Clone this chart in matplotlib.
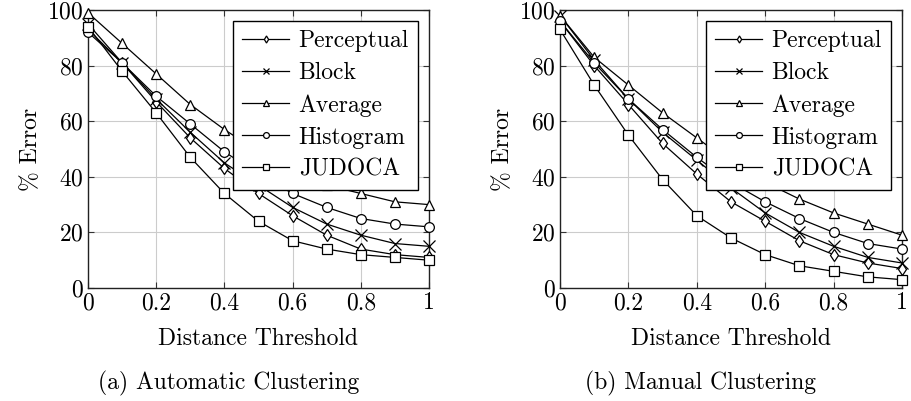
import numpy as np
import matplotlib
matplotlib.use("Agg")
import matplotlib.pyplot as plt

plt.rcParams['font.family'] = ['cmr10', 'DejaVu Serif']
plt.rcParams['mathtext.fontset'] = 'cm'
plt.rcParams['axes.formatter.use_mathtext'] = True
plt.rcParams['font.size'] = 17

# distance thresholds
thresholds = [0, 0.1, 0.2, 0.3, 0.4, 0.5, 0.6, 0.7, 0.8, 0.9, 1.0]
methods = ['Perceptual', 'Block', 'Average', 'Histogram', 'JUDOCA']
markers = ['d', 'x', '^', 'o', 's']

# (a) automatic clustering, % error
auto_perceptual = [93, 81, 67, 54, 43, 34, 26, 19, 14, 12, 11]
auto_block = [95, 81, 68, 56, 45, 37, 29, 23, 19, 16, 15]
auto_average = [99, 88, 77, 66, 57, 49, 42, 37, 34, 31, 30]
auto_histogram = [92, 81, 69, 59, 49, 41, 34, 29, 25, 23, 22]
auto_judoca = [94, 78, 63, 47, 34, 24, 17, 14, 12, 11, 10]

# (b) manual clustering, % error
man_perceptual = [96, 80, 66, 52, 41, 31, 24, 17, 12, 9, 7]
man_block = [98, 82, 68, 56, 46, 36, 27, 20, 15, 11, 9]
man_average = [98, 83, 73, 63, 54, 45, 38, 32, 27, 23, 19]
man_histogram = [96, 81, 68, 57, 47, 38, 31, 25, 20, 16, 14]
man_judoca = [93, 73, 55, 39, 26, 18, 12, 8, 6, 4, 3]

auto = [auto_perceptual, auto_block, auto_average, auto_histogram, auto_judoca]
manual = [man_perceptual, man_block, man_average, man_histogram, man_judoca]

fig = plt.figure(figsize=(9.12, 4.01), dpi=100)
ax1 = fig.add_axes([88 / 912, 1 - 288 / 401, 341 / 912, 278 / 401])
ax2 = fig.add_axes([560 / 912, 1 - 288 / 401, 342 / 912, 278 / 401])


def draw_panel(ax, series):
    for vals, name, mk in zip(series, methods, markers):
        ms = 8 if mk == 'x' else 7
        if mk == 'd':
            ms = 6
        ax.plot(thresholds, vals, color='black', lw=0.9, marker=mk, ms=ms,
                mfc='white', mec='black', mew=0.9, label=name, clip_on=False, zorder=3)
    ax.set_xlim(0, 1)
    ax.set_ylim(0, 100)
    ax.set_xticks([0, 0.2, 0.4, 0.6, 0.8, 1])
    ax.set_xticklabels(['0', '0.2', '0.4', '0.6', '0.8', '1'])
    ax.set_yticks([0, 20, 40, 60, 80, 100])
    ax.grid(True, color='#cccccc', lw=0.8)
    ax.set_axisbelow(True)
    ax.tick_params(direction='in', length=4, width=0.8, top=True, right=True,
                   colors='#333333', labelcolor='black', pad=3)
    for s in ax.spines.values():
        s.set_linewidth(1.0)
        s.set_color('#222222')
    ax.set_xlabel('Distance Threshold', labelpad=10)
    ax.set_ylabel('% Error', labelpad=4)
    leg = ax.legend(loc='upper right', fancybox=False, framealpha=1, edgecolor='black',
                    handlelength=2.0, handletextpad=0.4, borderpad=0.4, labelspacing=0.42,
                    markerscale=0.6, borderaxespad=0.45)
    leg.get_frame().set_linewidth(1.0)
    leg.set_zorder(5)


draw_panel(ax1, auto)
draw_panel(ax2, manual)

fig.text(229 / 912, 1 - 383 / 401, '(a) Automatic Clustering', ha='center', va='center')
fig.text(701 / 912, 1 - 383 / 401, '(b) Manual Clustering', ha='center', va='center')

fig.savefig('out.png', dpi=100)
